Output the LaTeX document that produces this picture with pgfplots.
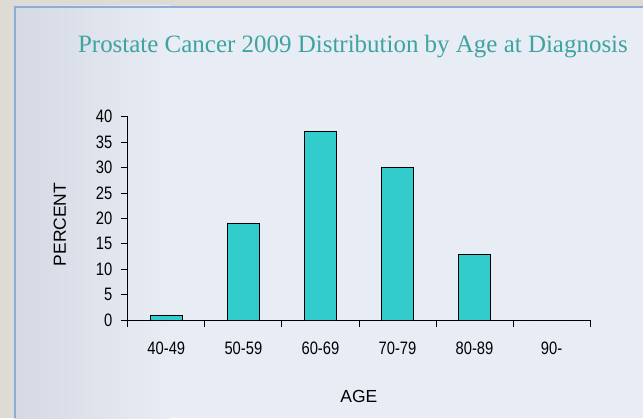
\documentclass[border=0pt]{standalone}
\usepackage{pgfplots}
\pgfplotsset{compat=1.18}
\usepackage{fontspec}
\setmainfont{Liberation Serif}
\newfontfamily\arial{Liberation Sans}
\newfontfamily\arialN[FakeStretch=0.82]{Liberation Sans}
\definecolor{outer}{HTML}{DEDBD5}
\definecolor{panelL}{HTML}{D4D9E3}
\definecolor{panelR}{HTML}{E8ECF5}
\definecolor{border}{HTML}{8EACD6}
\definecolor{barfill}{HTML}{33CCCC}
\definecolor{titlec}{HTML}{3FA3A0}
\begin{document}
\begin{tikzpicture}[x=1pt,y=1pt]
\fill[outer] (0,0) rectangle (644,419);
\fill[panelR] (14,0) rectangle (644,413);
\shade[left color=panelL, right color=panelR] (14,0) rectangle (170,413);
\draw[border, line width=2pt] (15,0) -- (15,412) -- (644,412);
\node[text=titlec, font=\fontsize{25}{29}\selectfont] at (353.5,372) {Prostate Cancer 2009 Distribution by Age at Diagnosis};
\begin{axis}[
  at={(128pt,98.3pt)}, anchor=south west,
  scale only axis, width=463pt, height=204pt,
  xmin=0, xmax=6, ymin=0, ymax=40,
  axis x line=bottom, axis y line=left, axis line style={-, black, line width=0.8pt},
  xtick={0.5,1.5,2.5,3.5,4.5,5.5},
  xticklabels={40-49,50-59,60-69,70-79,80-89,90-},
  minor xtick={0,1,2,3,4,5,6},
  major x tick style={draw=none},
  minor tick length=7pt, major tick length=7pt,
  tick align=outside,
  tick style={black, line width=0.8pt},
  ytick={0,5,...,40},
  /pgf/number format/assume math mode=true,
  ticklabel style={font=\arialN\fontsize{18}{20}\selectfont},
  xticklabel style={yshift=-11pt},
  yticklabel style={xshift=-5pt},
  xlabel={AGE}, ylabel={PERCENT},
  label style={font=\arial\fontsize{17.5}{20}\selectfont},
  xlabel style={at={(axis description cs:0.5,-0.373)}, anchor=center},
  ylabel style={at={(axis description cs:-0.147,0.47)}, anchor=center},
  ybar, bar width=32pt, bar shift=0pt,
]
\addplot[fill=barfill, draw=black, line width=0.8pt] coordinates {(0.5,1) (1.5,19) (2.5,37) (3.5,30) (4.5,13) (5.5,0)};
\end{axis}
\end{tikzpicture}
\end{document}
